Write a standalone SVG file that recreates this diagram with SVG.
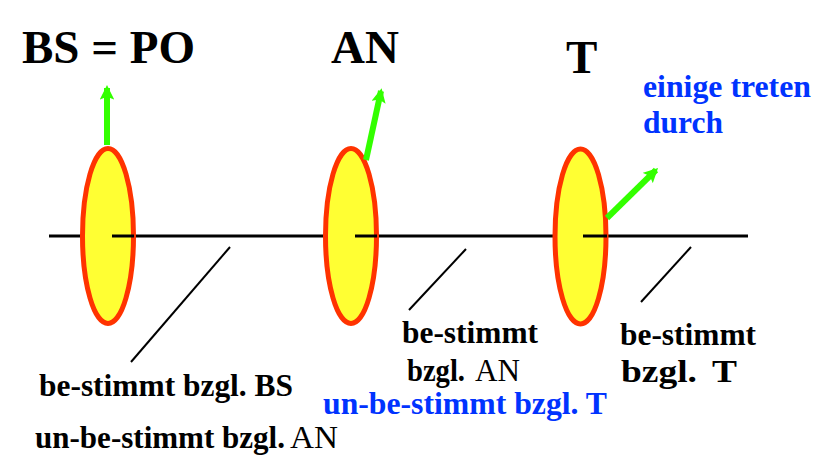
<svg xmlns="http://www.w3.org/2000/svg" width="826" height="472" viewBox="0 0 826 472">
<defs>
<style>
.t{font-family:"Liberation Serif","Times New Roman",serif;font-weight:bold;fill:#000}
.r{font-weight:normal}
.b{fill:#0033ff}
.big{font-size:47px}
.sm{font-size:31px}
.ax{stroke:#000;stroke-width:3;fill:none}
.dg{stroke:#000;stroke-width:2;fill:none}
.el{fill:#ffff33;stroke:#ff3300;stroke-width:5}
.ar{stroke:#33ff00;stroke-width:6;fill:none;marker-end:url(#ah)}
</style>
<marker id="ah" viewBox="0 0 10 10" refX="8" refY="5" markerWidth="2.4" markerHeight="2.4" orient="auto" markerUnits="strokeWidth">
<path d="M0,0 L10,5 L0,10 L2,5 Z" fill="#33ff00"/>
</marker>
</defs>
<rect width="826" height="472" fill="#fff"/>
<g id="axis">
<line class="ax" x1="49" y1="236" x2="748" y2="236"/>
</g>
<g id="node-bs">
<ellipse class="el" cx="108" cy="236" rx="25.5" ry="87.5"/>
<line class="ax" x1="112" y1="236" x2="134" y2="236"/>
<text class="t big" x="22" y="63">BS = PO</text>
</g>
<g id="node-an">
<ellipse class="el" cx="351" cy="236" rx="25.5" ry="87.5"/>
<line class="ax" x1="355" y1="236" x2="377" y2="236"/>
<text class="t big" x="331" y="63">AN</text>
</g>
<g id="node-t">
<ellipse class="el" cx="580.5" cy="236.5" rx="25.5" ry="87.5"/>
<line class="ax" x1="583" y1="236" x2="607" y2="236"/>
<text class="t big" x="566" y="73">T</text>
<text class="t sm b" x="643" y="97" textLength="168" lengthAdjust="spacingAndGlyphs">einige treten</text>
<text class="t sm b" x="643" y="133" textLength="80" lengthAdjust="spacingAndGlyphs">durch</text>
</g>
<g id="connectors">
<line class="ar" x1="107" y1="145" x2="107" y2="88"/>
<line class="ar" x1="366" y1="160" x2="381" y2="91"/>
<line class="ar" x1="607" y1="218" x2="656" y2="170"/>
<line class="dg" x1="230" y1="247" x2="131" y2="362"/>
<line class="dg" x1="466" y1="249" x2="409" y2="310"/>
<line class="dg" x1="691" y1="247" x2="641" y2="302"/>
</g>
<g id="labels">
<text class="t sm" x="39" y="396" textLength="254" lengthAdjust="spacingAndGlyphs">be-stimmt bzgl. BS</text>
<text class="t sm" x="35" y="448" textLength="250" lengthAdjust="spacingAndGlyphs">un-be-stimmt bzgl.</text>
<text class="t sm r" x="290" y="448" textLength="48" lengthAdjust="spacingAndGlyphs">AN</text>
<text class="t sm" x="402" y="343" textLength="136" lengthAdjust="spacingAndGlyphs">be-stimmt</text>
<text class="t sm" x="407" y="381" textLength="58" lengthAdjust="spacingAndGlyphs">bzgl.</text>
<text class="t sm r" x="475" y="381" textLength="45" lengthAdjust="spacingAndGlyphs">AN</text>
<text class="t sm b" x="323" y="414" textLength="284" lengthAdjust="spacingAndGlyphs">un-be-stimmt bzgl. T</text>
<text class="t sm" x="620" y="345" textLength="136" lengthAdjust="spacingAndGlyphs">be-stimmt</text>
<text class="t sm" x="621" y="382" textLength="76" lengthAdjust="spacingAndGlyphs">bzgl.</text>
<text class="t sm" x="712" y="382" textLength="25" lengthAdjust="spacingAndGlyphs">T</text>
</g>
</svg>
